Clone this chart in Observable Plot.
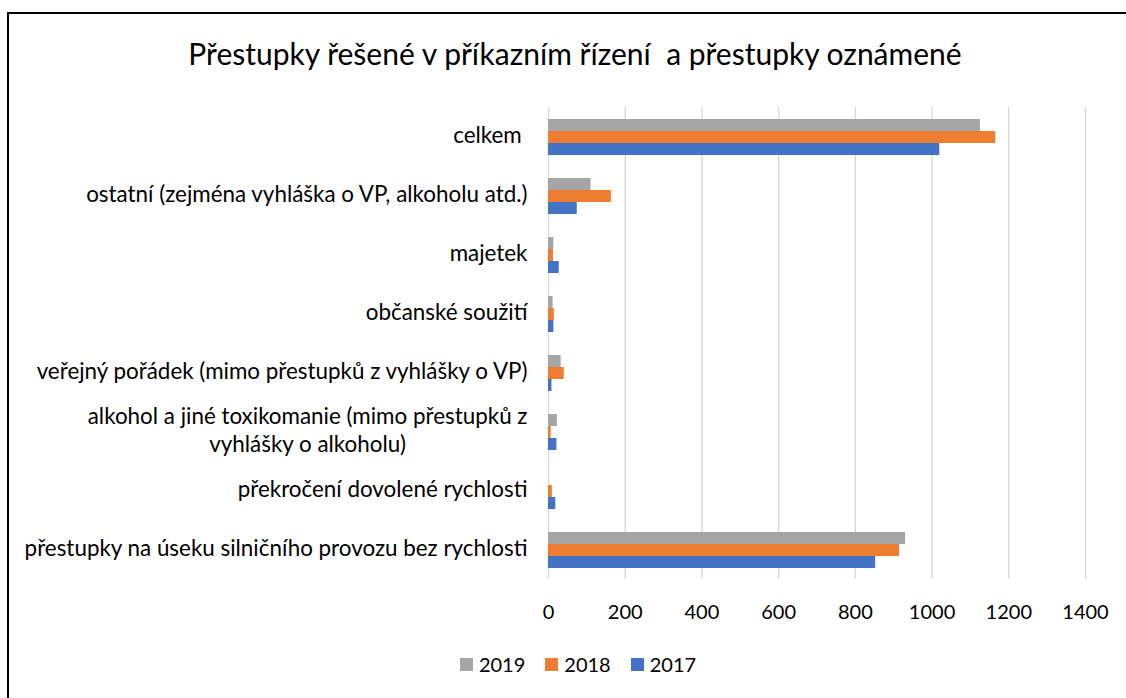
<!DOCTYPE html>
<html>
<head>
<meta charset="utf-8">
<script src="https://cdn.jsdelivr.net/npm/d3@7"></script>
<script src="https://cdn.jsdelivr.net/npm/@observablehq/plot@0.6"></script>
<style>
  html, body { margin: 0; padding: 0; background: #fff; }
  body { width: 1126px; height: 698px; position: relative; overflow: hidden; font-family: Lato, "Open Sans", sans-serif; color: #000; }
  #frame { position: absolute; left: 7px; top: 12px; width: 1200px; height: 800px; border-left: 2px solid #000; border-top: 2px solid #000; }
  #title { position: absolute; left: 0; width: 1150px; top: 35px; text-align: center; font-size: 30px; color: #000; white-space: nowrap; }
  #chart { position: absolute; left: 0; top: 0; }
  #legend { position: absolute; top: 652px; left: 0; width: 1156px; display: flex; justify-content: center; gap: 20px; font-size: 20px; }
  #legend span.item { display: inline-flex; align-items: center; gap: 6px; }
  #legend i { display: inline-block; width: 13px; height: 13px; }
</style>
</head>
<body>
<div id="frame"></div>
<div id="title">Přestupky řešené v příkazním řízení&nbsp; a přestupky oznámené</div>
<div id="chart"></div>
<div id="legend"></div>
<script>
const categories = [
  "celkem",
  "ostatní (zejména vyhláška o VP, alkoholu atd.)",
  "majetek",
  "občanské soužití",
  "veřejný pořádek (mimo přestupků z vyhlášky o VP)",
  "alkohol a jiné toxikomanie (mimo přestupků z vyhlášky o alkoholu)",
  "překročení dovolené rychlosti",
  "přestupky na úseku silničního provozu bez rychlosti"
];
const tickLabels = [
  "celkem\u00a0",
  "ostatní (zejména vyhláška o VP, alkoholu atd.)",
  "majetek",
  "občanské soužití",
  "veřejný pořádek (mimo přestupků z vyhlášky o VP)",
  "alkohol a jiné toxikomanie (mimo přestupků z\nvyhlášky o alkoholu)",
  "překročení dovolené rychlosti",
  "přestupky na úseku silničního provozu bez rychlosti"
];
const years = ["2019", "2018", "2017"];
const colors = ["#A5A5A5", "#ED7D31", "#4472C4"];
const values2019 = [1126, 111, 14, 12, 33, 23, 0, 931];
const values2018 = [1166, 164, 13, 15, 41, 7, 10, 915];
const values2017 = [1020, 75, 28, 14, 9, 22, 19, 853];
const xTicks = [0, 200, 400, 600, 800, 1000, 1200, 1400];

const series = {"2019": values2019, "2018": values2018, "2017": values2017};
const rows = [];
categories.forEach((c, i) => {
  years.forEach(y => rows.push({category: c, year: y, value: series[y][i]}));
});
const labelOf = new Map(categories.map((c, i) => [c, tickLabels[i]]));

const plot = Plot.plot({
  width: 1126,
  height: 640,
  marginLeft: 548,
  marginRight: 41,
  marginTop: 104,
  marginBottom: 58.5,
  style: {fontFamily: "Lato, 'Open Sans', sans-serif", fontSize: "20px", color: "#000", background: "transparent"},
  x: {domain: [0, 1400]},
  fy: {domain: categories, padding: 0},
  y: {domain: years, paddingInner: 0, paddingOuter: 0.88, axis: null},
  color: {domain: years, range: colors},
  marks: [
    Plot.gridX(xTicks, {stroke: "#d9d9d9", strokeOpacity: 1, strokeWidth: 1.4}),
    Plot.barX(rows, {x: "value", y: "year", fy: "category", fill: "year"}),
    Plot.axisX(xTicks, {tickSize: 0, tickPadding: 25, label: null, fontSize: 20, tickFormat: d => String(d)}),
    Plot.axisFy({anchor: "left", tickSize: 0, tickPadding: 21, dy: -3, label: null, fontSize: 22.4, lineHeight: 1.27, tickFormat: d => labelOf.get(d)})
  ]
});
document.getElementById("chart").appendChild(plot);

// center multi-line labels like the original
plot.querySelectorAll("text").forEach(t => {
  const spans = t.querySelectorAll("tspan");
  if (spans.length > 1) {
    const bb = t.getBBox();
    t.setAttribute("text-anchor", "middle");
    spans.forEach(s => s.setAttribute("x", bb.x + bb.width / 2));
  }
});

const legend = document.getElementById("legend");
years.forEach((y, i) => {
  const item = document.createElement("span");
  item.className = "item";
  item.innerHTML = `<i style="background:${colors[i]}"></i>${y}`;
  legend.appendChild(item);
});
</script>
</body>
</html>
